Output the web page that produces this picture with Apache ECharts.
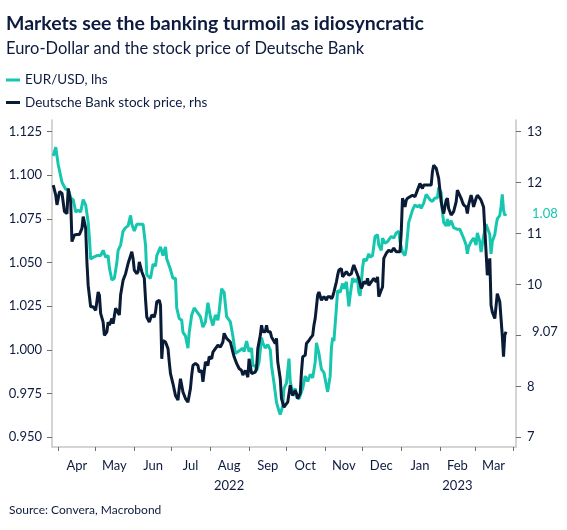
<!DOCTYPE html>
<html>
<head>
<meta charset="utf-8">
<script src="https://cdn.jsdelivr.net/npm/echarts@6/dist/echarts.min.js"></script>
<style>
  html, body { margin: 0; padding: 0; background: #ffffff; }
  #chart { width: 567px; height: 530px; }
</style>
</head>
<body>
<div id="chart"></div>
<script>
// ---- Data ----
const titleText = 'Markets see the banking turmoil as idiosyncratic';
const subtitleText = 'Euro-Dollar and the stock price of Deutsche Bank';
const sourceText = 'Source: Convera, Macrobond';
const seriesNames = ['EUR/USD, lhs', 'Deutsche Bank stock price, rhs'];

const axisStart = '2022-03-27';
const axisEnd = '2023-04-03';
const monthNames = ['Jan','Feb','Mar','Apr','May','Jun','Jul','Aug','Sep','Oct','Nov','Dec'];
const leftTicks = [0.950, 0.975, 1.000, 1.025, 1.050, 1.075, 1.100, 1.125];
const rightTicks = [7, 8, 9, 10, 11, 12, 13];
const rightTickLabels = [7, 8, 10, 11, 12, 13];

const eurDates = [
'2022-03-28','2022-03-30','2022-04-01','2022-04-04','2022-04-07','2022-04-09','2022-04-11','2022-04-13','2022-04-15','2022-04-17',
'2022-04-19','2022-04-21','2022-04-23','2022-04-25','2022-04-26','2022-04-27','2022-04-29','2022-05-02','2022-05-05','2022-05-07',
'2022-05-09','2022-05-11','2022-05-12','2022-05-14','2022-05-16','2022-05-18','2022-05-19','2022-05-21','2022-05-23','2022-05-25',
'2022-05-27','2022-05-29','2022-05-30','2022-06-01','2022-06-03','2022-06-05','2022-06-06','2022-06-08','2022-06-10','2022-06-11',
'2022-06-14','2022-06-16','2022-06-18','2022-06-19','2022-06-22','2022-06-24','2022-06-26','2022-06-27','2022-06-30','2022-07-02',
'2022-07-04','2022-07-05','2022-07-07','2022-07-09','2022-07-10','2022-07-12','2022-07-14','2022-07-15','2022-07-17','2022-07-19',
'2022-07-21','2022-07-22','2022-07-24','2022-07-26','2022-07-28','2022-07-30','2022-08-01','2022-08-03','2022-08-05','2022-08-07',
'2022-08-08','2022-08-10','2022-08-12','2022-08-14','2022-08-15','2022-08-17','2022-08-19','2022-08-21','2022-08-23','2022-08-24',
'2022-08-27','2022-08-28','2022-08-30','2022-09-01','2022-09-03','2022-09-04','2022-09-06','2022-09-07','2022-09-09','2022-09-11',
'2022-09-12','2022-09-14','2022-09-16','2022-09-18','2022-09-19','2022-09-21','2022-09-23','2022-09-25','2022-09-26','2022-09-28',
'2022-09-29','2022-10-01','2022-10-03','2022-10-04','2022-10-06','2022-10-08','2022-10-09','2022-10-11','2022-10-12','2022-10-14',
'2022-10-16','2022-10-18','2022-10-20','2022-10-22','2022-10-24','2022-10-25','2022-10-27','2022-10-29','2022-10-31','2022-11-01',
'2022-11-03','2022-11-05','2022-11-06','2022-11-07','2022-11-08','2022-11-10','2022-11-11','2022-11-13','2022-11-15','2022-11-16',
'2022-11-18','2022-11-20','2022-11-21','2022-11-23','2022-11-25','2022-11-27','2022-11-28','2022-11-29','2022-12-01','2022-12-02',
'2022-12-04','2022-12-06','2022-12-07','2022-12-09','2022-12-11','2022-12-13','2022-12-14','2022-12-16','2022-12-17','2022-12-19',
'2022-12-21','2022-12-22','2022-12-24','2022-12-26','2022-12-28','2022-12-30','2022-12-31','2023-01-02','2023-01-04','2023-01-05',
'2023-01-07','2023-01-08','2023-01-10','2023-01-12','2023-01-14','2023-01-16','2023-01-17','2023-01-19','2023-01-21','2023-01-22',
'2023-01-24','2023-01-26','2023-01-28','2023-01-30','2023-01-31','2023-02-02','2023-02-03','2023-02-04','2023-02-06','2023-02-07',
'2023-02-08','2023-02-10','2023-02-12','2023-02-13','2023-02-15','2023-02-17','2023-02-18','2023-02-20','2023-02-22','2023-02-23',
'2023-02-24','2023-02-26','2023-02-27','2023-02-28','2023-03-02','2023-03-03','2023-03-05','2023-03-06','2023-03-07','2023-03-08',
'2023-03-10','2023-03-11','2023-03-13','2023-03-14','2023-03-15','2023-03-17','2023-03-18','2023-03-19','2023-03-21','2023-03-22',
'2023-03-23','2023-03-24','2023-03-25','2023-03-26'
];
const eurValues = [
1.111,1.116,1.106,1.096,1.092,1.092,1.087,1.086,1.079,1.080,
1.079,1.086,1.083,1.073,1.064,1.052,1.053,1.054,1.054,1.057,
1.053,1.054,1.047,1.040,1.041,1.050,1.057,1.060,1.068,1.070,
1.071,1.077,1.072,1.068,1.072,1.072,1.073,1.072,1.060,1.043,
1.041,1.049,1.048,1.054,1.059,1.054,1.059,1.052,1.046,1.041,
1.041,1.024,1.018,1.017,1.010,1.008,1.001,1.010,1.020,1.024,
1.022,1.023,1.019,1.013,1.016,1.027,1.019,1.014,1.020,1.017,
1.022,1.035,1.033,1.019,1.018,1.016,1.008,0.998,0.999,0.998,
1.001,0.999,1.005,0.999,1.001,0.991,0.991,0.988,0.993,1.007,
1.004,1.001,1.003,1.000,0.991,0.981,0.970,0.965,0.963,0.968,
0.978,0.981,0.995,0.982,0.975,0.978,0.973,0.972,0.972,0.978,
0.985,0.982,0.986,0.984,0.993,1.004,0.998,0.989,0.987,0.986,
0.976,0.985,1.001,1.007,1.005,1.024,1.034,1.033,1.038,1.035,
1.039,1.025,1.031,1.041,1.039,1.041,1.033,1.031,1.047,1.052,
1.051,1.055,1.053,1.054,1.065,1.066,1.060,1.057,1.064,1.061,
1.062,1.063,1.065,1.064,1.067,1.068,1.062,1.056,1.054,1.058,
1.073,1.074,1.080,1.083,1.082,1.083,1.081,1.084,1.089,1.090,
1.086,1.085,1.087,1.087,1.093,1.090,1.079,1.073,1.071,1.075,
1.071,1.074,1.070,1.071,1.069,1.069,1.068,1.064,1.060,1.055,
1.059,1.062,1.061,1.064,1.060,1.067,1.062,1.056,1.057,1.065,
1.072,1.071,1.066,1.055,1.062,1.066,1.071,1.075,1.077,1.082,
1.089,1.080,1.077,1.078
];

const dbDates = [
'2022-03-28','2022-03-30','2022-03-31','2022-04-02','2022-04-04','2022-04-06','2022-04-08','2022-04-09','2022-04-11','2022-04-12',
'2022-04-14','2022-04-16','2022-04-18','2022-04-20','2022-04-21','2022-04-23','2022-04-24','2022-04-25','2022-04-27','2022-04-29',
'2022-05-01','2022-05-03','2022-05-04','2022-05-05','2022-05-07','2022-05-08','2022-05-10','2022-05-11','2022-05-12','2022-05-14',
'2022-05-15','2022-05-17','2022-05-18','2022-05-20','2022-05-21','2022-05-23','2022-05-25','2022-05-27','2022-05-28','2022-05-30',
'2022-05-31','2022-06-01','2022-06-03','2022-06-04','2022-06-05','2022-06-07','2022-06-09','2022-06-10','2022-06-11','2022-06-13',
'2022-06-15','2022-06-17','2022-06-18','2022-06-19','2022-06-21','2022-06-22','2022-06-23','2022-06-24','2022-06-26','2022-06-28',
'2022-06-29','2022-06-30','2022-07-02','2022-07-03','2022-07-04','2022-07-06','2022-07-07','2022-07-08','2022-07-10','2022-07-11',
'2022-07-12','2022-07-14','2022-07-16','2022-07-17','2022-07-18','2022-07-20','2022-07-22','2022-07-23','2022-07-25','2022-07-26',
'2022-07-28','2022-07-30','2022-07-31','2022-08-02','2022-08-03','2022-08-05','2022-08-07','2022-08-09','2022-08-11','2022-08-12',
'2022-08-14','2022-08-15','2022-08-17','2022-08-19','2022-08-20','2022-08-22','2022-08-24','2022-08-26','2022-08-27','2022-08-29',
'2022-08-30','2022-08-31','2022-09-01','2022-09-03','2022-09-04','2022-09-06','2022-09-07','2022-09-08','2022-09-10','2022-09-11',
'2022-09-12','2022-09-14','2022-09-15','2022-09-16','2022-09-18','2022-09-19','2022-09-20','2022-09-22','2022-09-23','2022-09-24',
'2022-09-26','2022-09-27','2022-09-29','2022-09-30','2022-10-02','2022-10-04','2022-10-05','2022-10-06','2022-10-08','2022-10-09',
'2022-10-10','2022-10-12','2022-10-13','2022-10-14','2022-10-16','2022-10-17','2022-10-19','2022-10-20','2022-10-22','2022-10-23',
'2022-10-24','2022-10-26','2022-10-27','2022-10-29','2022-10-31','2022-11-02','2022-11-03','2022-11-05','2022-11-06','2022-11-07',
'2022-11-08','2022-11-10','2022-11-11','2022-11-12','2022-11-14','2022-11-15','2022-11-16','2022-11-18','2022-11-20','2022-11-22',
'2022-11-23','2022-11-24','2022-11-26','2022-11-27','2022-11-28','2022-11-30','2022-12-01','2022-12-02','2022-12-04','2022-12-05',
'2022-12-06','2022-12-08','2022-12-09','2022-12-10','2022-12-12','2022-12-13','2022-12-14','2022-12-16','2022-12-17','2022-12-18',
'2022-12-20','2022-12-21','2022-12-22','2022-12-24','2022-12-26','2022-12-28','2022-12-29','2022-12-31','2023-01-01','2023-01-02',
'2023-01-04','2023-01-05','2023-01-06','2023-01-08','2023-01-09','2023-01-10','2023-01-12','2023-01-13','2023-01-14','2023-01-16',
'2023-01-17','2023-01-18','2023-01-19','2023-01-21','2023-01-23','2023-01-25','2023-01-26','2023-01-27','2023-01-29','2023-01-30',
'2023-01-31','2023-02-02','2023-02-03','2023-02-04','2023-02-06','2023-02-07','2023-02-08','2023-02-10','2023-02-11','2023-02-12',
'2023-02-14','2023-02-15','2023-02-16','2023-02-18','2023-02-19','2023-02-20','2023-02-22','2023-02-23','2023-02-24','2023-02-26',
'2023-02-27','2023-02-28','2023-03-02','2023-03-03','2023-03-05','2023-03-06','2023-03-07','2023-03-08','2023-03-10','2023-03-11',
'2023-03-13','2023-03-14','2023-03-15','2023-03-17','2023-03-18','2023-03-19','2023-03-21','2023-03-22','2023-03-23','2023-03-24',
'2023-03-25','2023-03-26'
];
const dbValues = [
11.95,11.75,11.56,11.82,11.79,11.43,11.39,11.88,11.62,10.84,
10.97,10.98,10.98,11.10,11.33,11.10,10.44,9.98,9.56,9.56,
9.49,9.85,9.79,9.43,9.26,9.00,9.07,9.26,9.20,9.33,
9.23,9.53,9.49,9.40,9.79,10.08,10.21,10.41,10.41,10.64,
10.51,10.28,10.21,10.25,10.44,10.25,10.12,9.70,9.36,9.26,
9.40,9.36,9.46,9.66,9.69,9.59,8.54,8.90,8.87,8.74,
8.48,8.25,8.05,8.05,7.82,7.73,7.96,8.15,7.89,7.89,
7.76,7.69,7.96,8.22,8.41,8.45,8.41,8.28,8.31,8.09,
8.48,8.41,8.58,8.54,8.67,8.74,8.81,8.77,8.87,9.04,
8.94,8.97,8.87,8.67,8.58,8.45,8.35,8.31,8.22,8.31,
8.25,8.18,8.54,8.25,8.25,8.28,8.35,8.74,9.00,9.20,
9.07,9.07,9.20,9.07,9.07,8.97,9.00,8.84,8.94,8.48,
8.15,7.76,7.59,7.63,7.69,8.02,7.89,7.82,7.92,7.86,
7.76,7.86,8.28,8.58,8.61,8.84,8.90,8.94,9.00,9.20,
9.33,9.79,9.85,9.69,9.76,9.69,9.76,9.76,9.72,9.76,
9.85,10.05,10.18,10.28,10.31,10.15,10.18,10.25,10.18,10.21,
10.31,10.38,10.25,10.25,10.12,9.92,9.98,10.05,10.02,10.12,
9.98,10.05,10.02,10.12,10.05,10.15,9.76,9.89,9.95,10.51,
10.61,10.64,10.67,10.64,10.71,10.64,10.67,10.64,11.03,11.69,
11.52,11.65,11.69,11.72,11.72,11.75,11.72,11.75,11.85,11.98,
11.95,11.88,11.95,11.95,11.95,11.95,12.21,12.34,12.28,12.28,
12.08,11.62,11.49,11.39,11.65,11.69,11.49,11.36,11.39,11.43,
11.62,11.85,11.88,11.69,11.62,11.56,11.52,11.39,11.56,11.75,
11.65,11.52,11.69,11.75,11.69,11.65,11.62,11.52,10.64,10.18,
10.51,9.59,9.46,9.33,9.30,9.82,9.66,9.33,9.00,8.58,
9.00,9.07
];

// ---- Styling ----
const FONT = 'Lato';
const NAVY = '#0a1b36';
const TEAL = '#17c6ae';
const TEXT = '#0d1b3e';
const AXIS_GREY = '#c6c6c6';
const TICK_GREY = '#6e6e6e';

// calendar days for the category axis
function buildDays(a, b) {
  const out = [];
  const d = new Date(a + 'T00:00:00Z');
  const end = new Date(b + 'T00:00:00Z');
  while (d <= end) {
    out.push(d.toISOString().slice(0, 10));
    d.setUTCDate(d.getUTCDate() + 1);
  }
  return out;
}
const days = buildDays(axisStart, axisEnd);
function daysInMonth(y, m) { return new Date(Date.UTC(y, m, 0)).getUTCDate(); }
function isMonthStart(v) { return v.slice(8) === '01'; }
function isMidMonth(v) {
  const y = +v.slice(0, 4), m = +v.slice(5, 7), dd = +v.slice(8);
  return dd === Math.floor(daysInMonth(y, m) / 2) + 1;
}

const eurData = eurDates.map((d, i) => [d, eurValues[i]]);
const dbData = dbDates.map((d, i) => [d, dbValues[i]]);

const chart = echarts.init(document.getElementById('chart'), null, { renderer: 'canvas' });
chart.setOption({
  animation: false,
  backgroundColor: '#ffffff',
  textStyle: { fontFamily: FONT },
  title: [
    { text: titleText, left: 6, top: 14, padding: 0,
      textStyle: { fontFamily: FONT, fontWeight: 'bold', fontSize: 19.5, color: TEXT } },
    { text: subtitleText, left: 6, top: 40, padding: 0,
      textStyle: { fontFamily: FONT, fontWeight: 'normal', fontSize: 16.5, color: TEXT } },
    { text: sourceText, left: 9, top: 504, padding: 0,
      textStyle: { fontFamily: FONT, fontWeight: 'normal', fontSize: 12, color: TEXT } }
  ],
  legend: {
    orient: 'vertical', left: 6, top: 73, padding: 0,
    itemWidth: 14, itemHeight: 3, itemGap: 8.5, icon: 'rect',
    textStyle: { fontFamily: FONT, fontSize: 13.5, color: TEXT },
    data: seriesNames
  },
  grid: { left: 52, right: 51, top: 120, bottom: 83, containLabel: false },
  xAxis: {
    type: 'category', data: days, boundaryGap: false,
    axisLine: { lineStyle: { color: AXIS_GREY, width: 1.5 } },
    axisTick: { interval: (i, v) => isMonthStart(v), length: 4, lineStyle: { color: TICK_GREY } },
    axisLabel: {
      interval: (i, v) => isMidMonth(v), margin: 9, lineHeight: 20,
      fontFamily: FONT, fontSize: 13, color: TEXT,
      formatter: (v) => {
        const m = +v.slice(5, 7);
        const name = monthNames[m - 1];
        if (m === 8 || m === 2) return name + '\n' + v.slice(0, 4);
        return name;
      }
    },
    splitLine: { show: false }
  },
  yAxis: [
    {
      type: 'value', position: 'left', min: 0.94444, max: 1.1316,
      axisLine: { show: true, lineStyle: { color: AXIS_GREY, width: 1.5 } },
      axisTick: { show: true, customValues: leftTicks, length: 5, lineStyle: { color: TICK_GREY } },
      axisLabel: { customValues: leftTicks, margin: 10, fontFamily: FONT, fontSize: 13, color: TEXT,
        formatter: (v) => v.toFixed(3) },
      splitLine: { show: false }
    },
    {
      type: 'value', position: 'right', min: 6.8095, max: 13.226,
      axisLine: { show: true, lineStyle: { color: AXIS_GREY, width: 1.5 } },
      axisTick: { show: true, customValues: rightTicks, length: 5, lineStyle: { color: TICK_GREY } },
      axisLabel: { customValues: rightTickLabels, margin: 11, fontFamily: FONT, fontSize: 13, color: TEXT,
        formatter: (v) => String(v) },
      splitLine: { show: false }
    }
  ],
  series: [
    {
      name: seriesNames[0], type: 'line', yAxisIndex: 0, data: eurData,
      showSymbol: false, symbol: 'none', color: TEAL,
      lineStyle: { color: TEAL, width: 3 },
      endLabel: { show: true, distance: 26, color: TEAL, fontFamily: FONT, fontSize: 13,
        formatter: (p) => p.value[1].toFixed(2) }
    },
    {
      name: seriesNames[1], type: 'line', yAxisIndex: 1, data: dbData,
      showSymbol: false, symbol: 'none', color: NAVY,
      lineStyle: { color: NAVY, width: 3 },
      endLabel: { show: true, distance: 26, color: TEXT, fontFamily: FONT, fontSize: 13,
        formatter: (p) => p.value[1].toFixed(2) }
    }
  ]
});
</script>
</body>
</html>
